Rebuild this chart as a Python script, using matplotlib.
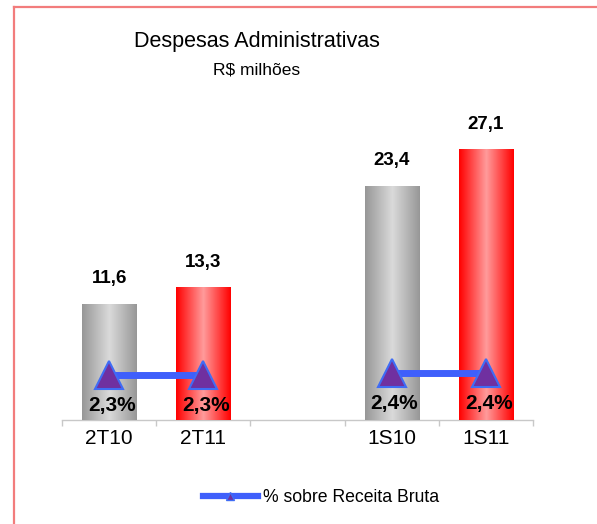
import numpy as np
import matplotlib
matplotlib.use("Agg")
import matplotlib.pyplot as plt
from matplotlib.lines import Line2D
from matplotlib.colors import to_rgb

plt.rcParams['font.family'] = ['Liberation Sans', 'DejaVu Sans']

# ---- data ----
categories = ["2T10", "2T11", "1S10", "1S11"]
despesas = [11.6, 13.3, 23.4, 27.1]
despesas_labels = ["11,6", "13,3", "23,4", "27,1"]
pct_receita = [2.3, 2.3, 2.4, 2.4]
pct_labels = ["2,3%", "2,3%", "2,4%", "2,4%"]
series_name = "% sobre Receita Bruta"
title = "Despesas Administrativas"
subtitle = "R$ milhões"

# slots: a blank slot separates quarters from semesters
slot_labels = categories[:2] + [""] + categories[2:]
slot_idx = [0, 1, 3, 4]

W, H = 597, 524
fig = plt.figure(figsize=(W / 100, H / 100), dpi=100)
ax = fig.add_axes([62 / W, (H - 420) / H, 471 / W, 300 / H])
ax.set_xlim(-0.5, len(slot_labels) - 0.5)
ax.set_ylim(0, 30)

gray_edge, gray_mid = to_rgb("#979797"), to_rgb("#dadada")
red_edge, red_mid = to_rgb("#ff0000"), to_rgb("#ff9b9b")
edges = [gray_edge, red_edge, gray_edge, red_edge]
mids = [gray_mid, red_mid, gray_mid, red_mid]

bars = ax.bar(slot_idx, despesas, width=0.575, color=[tuple(m) for m in mids],
              edgecolor="none", zorder=2)

t = np.linspace(-1, 1, 200)
for b, e, m in zip(bars, edges, mids):
    w = 1 - np.abs(t)
    grad = np.array(e)[None, :] + (np.array(m) - np.array(e))[None, :] * w[:, None]
    img = grad[None, :, :]
    x0, y0 = b.get_x(), b.get_y()
    im = ax.imshow(img, extent=(x0, x0 + b.get_width(), y0, y0 + b.get_height()),
                   aspect="auto", zorder=3, interpolation="bilinear")
    im.set_clip_path(b)

for b, lab in zip(bars, despesas_labels):
    ax.annotate(lab, (b.get_x() + b.get_width() / 2, b.get_height()),
                xytext=(0, 18), textcoords="offset points", ha="center", va="center",
                fontsize=13.5, fontweight="bold", color="black")

for s in ["left", "right", "top"]:
    ax.spines[s].set_visible(False)
ax.spines["bottom"].set_color("#c8c8c8")
ax.spines["bottom"].set_linewidth(1.0)
ax.set_yticks([])
ax.set_xticks(range(len(slot_labels)))
ax.set_xticklabels(slot_labels, fontsize=15)
ax.tick_params(axis="x", which="major", length=0, pad=6.5)
ax.set_xticks(np.arange(-0.5, len(slot_labels)), minor=True)
ax.tick_params(axis="x", which="minor", length=4.5, color="#c8c8c8", width=1.0, direction="out")

ax2 = ax.twinx()
ax2.set_ylim(0, 15.3)
ax2.set_yticks([])
for s in ax2.spines.values():
    s.set_visible(False)

pairs = [(0, 2), (2, 4)]
for i, (a, bnd) in enumerate(pairs):
    xs = [slot_idx[k] for k in range(a, bnd)]
    ys = pct_receita[a:bnd]
    ax2.plot(xs, ys, color="#3f5ffb", linewidth=5, solid_capstyle="butt",
             marker="^", markersize=20, markerfacecolor="#7030a0",
             markeredgecolor="#3f6cf5", markeredgewidth=1.5, zorder=5,
             label=series_name if i == 0 else None)

for k, lab in enumerate(pct_labels):
    ax2.annotate(lab, (slot_idx[k], pct_receita[k]), xytext=(2, -22),
                 textcoords="offset points", ha="center", va="center",
                 fontsize=15, fontweight="bold", color="black", zorder=6)

handle = Line2D([], [], color="#3f5ffb", linewidth=4.5, marker="^", markersize=6,
                markerfacecolor="#7030a0", markeredgecolor="#3f6cf5", markeredgewidth=1)
fig.legend([handle], [series_name], loc="center left",
           bbox_to_anchor=(203 / W, 1 - 498 / H), frameon=False, fontsize=12.7,
           borderpad=0, borderaxespad=0, handlelength=3.1, handletextpad=0.3)

fig.text(257 / W, 1 - 42 / H, title, ha="center", va="center", fontsize=15.5)
fig.text(257 / W, 1 - 70 / H, subtitle, ha="center", va="center", fontsize=12.5)

# outer chart border (top and left visible)
bx, by = 13.5 / W, 1 - 6.5 / H
fig.add_artist(Line2D([bx, 1.0], [by, by], transform=fig.transFigure,
                      color="#f27c7c", linewidth=1.6))
fig.add_artist(Line2D([bx, bx], [by, 0.0], transform=fig.transFigure,
                      color="#f27c7c", linewidth=1.6))

fig.savefig("out.png", dpi=100)
